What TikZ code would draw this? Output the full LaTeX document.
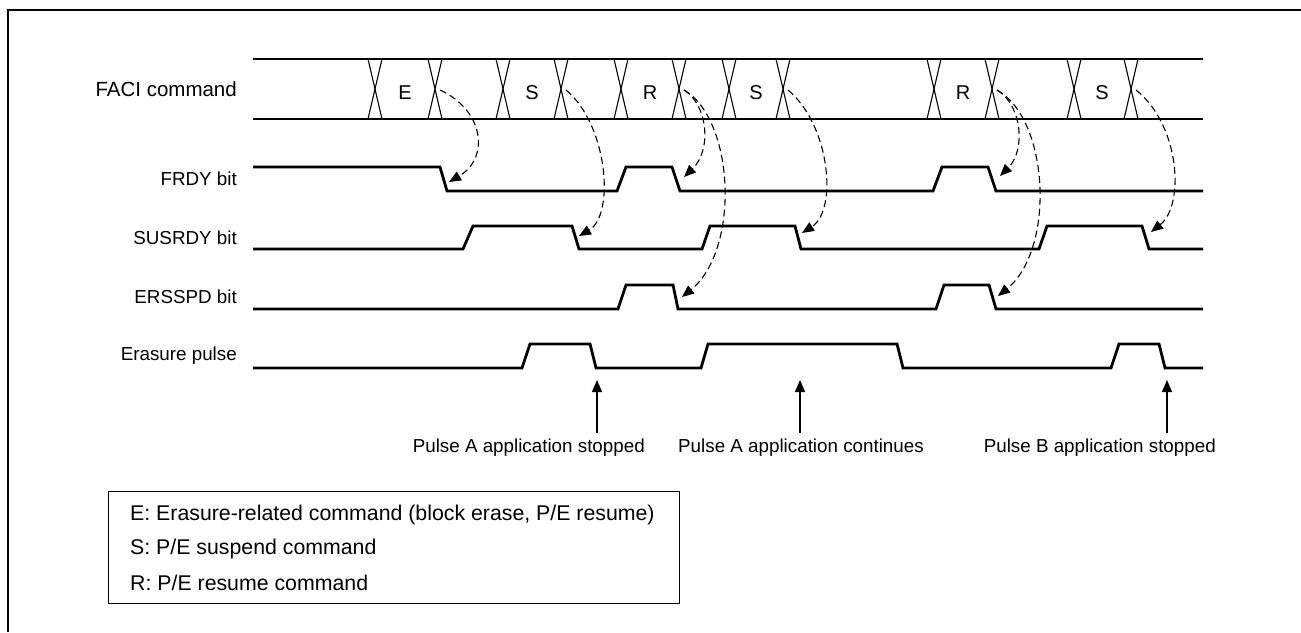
\documentclass[tikz,border=0pt]{standalone}
\usepackage{fontspec}
\setmainfont{Liberation Sans}
\usetikzlibrary{arrows.meta}

\begin{document}
\begin{tikzpicture}[>={Triangle[length=12pt,width=10pt]}, x=1pt, y=-1pt,
  sig/.style={line width=2.8pt, line join=miter},
  xing/.style={line width=1.1pt},
  cmdarrow/.style={dash pattern=on 7pt off 4pt, line width=1.1pt, ->},
  pulsearrow/.style={line width=1.3pt, ->},
  lbl/.style={font=\fontsize{18.8}{22}\selectfont, anchor=east, inner sep=0pt},
  txt/.style={font=\fontsize{18.8}{22}\selectfont, inner sep=0pt},
  legtxt/.style={font=\fontsize{21.3}{24}\selectfont, inner sep=0pt, anchor=west}]
  \useasboundingbox (0,0) rectangle (1301,632);
  \def\xs{253}
  \def\xe{1203}
  % outer frame (clipped on the right and at the bottom)
  \draw[line width=2pt] (8,632) -- (8,10) -- (1301,10);

  % signal names
  \node[lbl, font=\fontsize{20.5}{22}\selectfont] (nfaci) at (237,89) {FACI command};
  \node[lbl] (nfrdy) at (237,179) {FRDY bit};
  \node[lbl] (nsus)  at (237,238) {SUSRDY bit};
  \node[lbl] (ners)  at (237,297) {ERSSPD bit};
  \node[lbl] (npls)  at (237,356) {Erasure pulse};

  % FACI command bus
  \draw[sig] (\xs,59) -- (\xe,59);
  \draw[sig] (\xs,119) -- (\xe,119);
  \foreach \x [count=\i] in {375,435,503,561,621,679,729,783,934,992,1074,1131} {
    \draw[xing] (\x-7,59) -- (\x+7,119);
    \draw[xing] (\x+7,59) -- (\x-7,119);
    \coordinate (c\i) at (\x+5,90);
  }
  \foreach \x/\c/\n in {405/E/e1,532/S/s1,650/R/r1,756/S/s2,963/R/r2,1102/S/s3}
    \node[txt, font=\fontsize{20}{22}\selectfont] (\n) at (\x,93) {\c};

  % FRDY bit
  \draw[sig] (\xs,167) -- (440,167) -- (447,191) -- (617,191) -- (626,167)
    -- (672,167) -- (680,191) -- (933,191) -- (942,167) -- (988,167)
    -- (996,191) -- (\xe,191);
  % SUSRDY bit
  \draw[sig] (\xs,249) -- (463,249) -- (473,226) -- (572,226) -- (579,249)
    -- (702,249) -- (710,226) -- (795,226) -- (801,249) -- (1039,249)
    -- (1047,226) -- (1142,226) -- (1149,249) -- (\xe,249);
  % ERSSPD bit
  \draw[sig] (\xs,309) -- (618,309) -- (626,285) -- (673,285) -- (678,309)
    -- (936,309) -- (944,285) -- (989,285) -- (996,309) -- (\xe,309);
  % erasure pulse
  \draw[sig] (\xs,368) -- (522,368) -- (530,344) -- (590,344) -- (596,368)
    -- (701,368) -- (708,344) -- (897,344) -- (903,368) -- (1111,368)
    -- (1119,344) -- (1159,344) -- (1165,368) -- (\xe,368);

  % edges hit by the commands
  \coordinate (f1) at (449,182);
  \coordinate (f2) at (684,177);
  \coordinate (f3) at (1000,176);
  \coordinate (u1) at (579,236);
  \coordinate (u2) at (802,233);
  \coordinate (u3) at (1151,232);
  \coordinate (d1) at (682,297);
  \coordinate (d2) at (998,296);

  \draw[cmdarrow] (c2) .. controls (484,110) and (490,158) .. (f1);
  \draw[cmdarrow] (c4) .. controls (608,125) and (615,215) .. (u1);
  \draw[cmdarrow] (c6) .. controls (708,105) and (712,150) .. (f2);
  \draw[cmdarrow] (c6) .. controls (735,120) and (740,250) .. (d1);
  \draw[cmdarrow] (c8) .. controls (830,125) and (838,210) .. (u2);
  \draw[cmdarrow] (c10) .. controls (1022,105) and (1026,150) .. (f3);
  \draw[cmdarrow] (c10) .. controls (1050,120) and (1055,250) .. (d2);
  \draw[cmdarrow] (c12) .. controls (1180,125) and (1185,205) .. (u3);

  % pulse annotations
  \node[txt, anchor=east] (pastop) at (645,448) {Pulse A application stopped};
  \node[txt, anchor=east] (pacont) at (924,448) {Pulse A application continues};
  \node[txt, anchor=east] (pbstop) at (1216,448) {Pulse B application stopped};
  \foreach \x/\n in {597/ta,800/tb,1167/tc} {
    \coordinate (\n0) at (\x,433);
    \coordinate (\n1) at (\x,380);
    \draw[pulsearrow] (\n0) -- (\n1);
  }

  % legend
  \node[draw, line width=1pt, anchor=north west, minimum width=571pt,
    minimum height=112pt, inner sep=0pt] (legend) at (108,491) {};
  \node[legtxt] (le) at (130,515) {E: Erasure-related command (block erase, P/E resume)};
  \node[legtxt] (ls) at (130,549) {S: P/E suspend command};
  \node[legtxt] (lr) at (130,583) {R: P/E resume command};
\end{tikzpicture}
\end{document}
